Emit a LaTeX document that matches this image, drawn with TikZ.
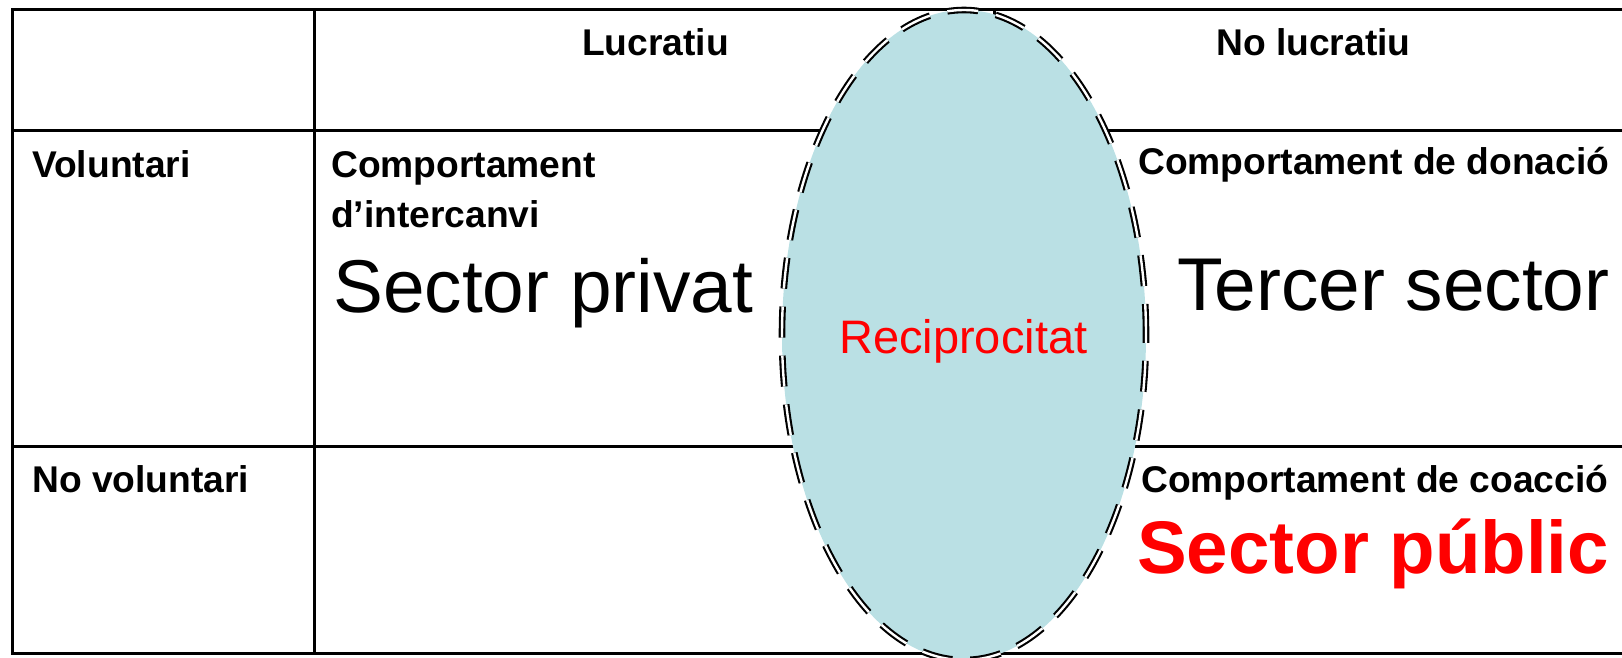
\documentclass[tikz,border=0pt]{standalone}
\usepackage{fontspec}
\setmainfont{Liberation Sans}
\usetikzlibrary{shapes.geometric}
\definecolor{recip}{RGB}{186,224,228}
\begin{document}
\begin{tikzpicture}[x=1pt,y=-1pt,
  grid/.style={line width=3pt, line cap=rect},
  lbl/.style={anchor=base west, inner sep=0pt, font=\bfseries\fontsize{37.2}{40}\selectfont},
  big/.style={anchor=base west, inner sep=0pt, font=\fontsize{74.8}{80}\selectfont},
  oval/.style={ellipse, draw=black, fill=recip, inner sep=0pt,
    minimum width=364pt, minimum height=650pt, line width=2.1pt,
    double=white, double distance=2.4pt, dash pattern=on 31pt off 18pt}
]
\useasboundingbox (0,0) rectangle (1622,658);
% table grid
\draw[grid] (1640,10) -- (12,10) -- (12,653) -- (1640,653);
\draw[grid] (12,131) -- (1640,131);
\draw[grid] (12,446) -- (1640,446);
\draw[grid] (314,10) -- (314,653);
\draw[grid] (994,10) -- (994,653);
% reciprocity ellipse
\node[oval] (recip) at (964,335) {};
% labels
\node[lbl] (lucr) at (582,56) {Lucratiu};
\node[lbl] (nolucr) at (1216,56) {No lucratiu};
\node[lbl] (vol) at (32,177) {Voluntari};
\node[lbl] (novol) at (32,492) {No voluntari};
\node[lbl] (ci1) at (331,177) {Comportament};
\node[lbl] (ci2) at (331,227) {d’intercanvi};
\node[big] (priv) at (333,312) {Sector privat};
\node[lbl] (don) at (1138,175) {Comportament de donació};
\node[big] (terc) at (1177,310) {Tercer sector};
\node[anchor=base west, inner sep=0pt, text=red, font=\fontsize{47}{50}\selectfont] (rec) at (839,353) {Reciprocitat};
\node[lbl] (coac) at (1141,492) {Comportament de coacció};
\node[anchor=base west, inner sep=0pt, text=red, font=\bfseries\fontsize{74.5}{80}\selectfont] (pub) at (1137,573) {Sector públic};
\end{tikzpicture}
\end{document}
